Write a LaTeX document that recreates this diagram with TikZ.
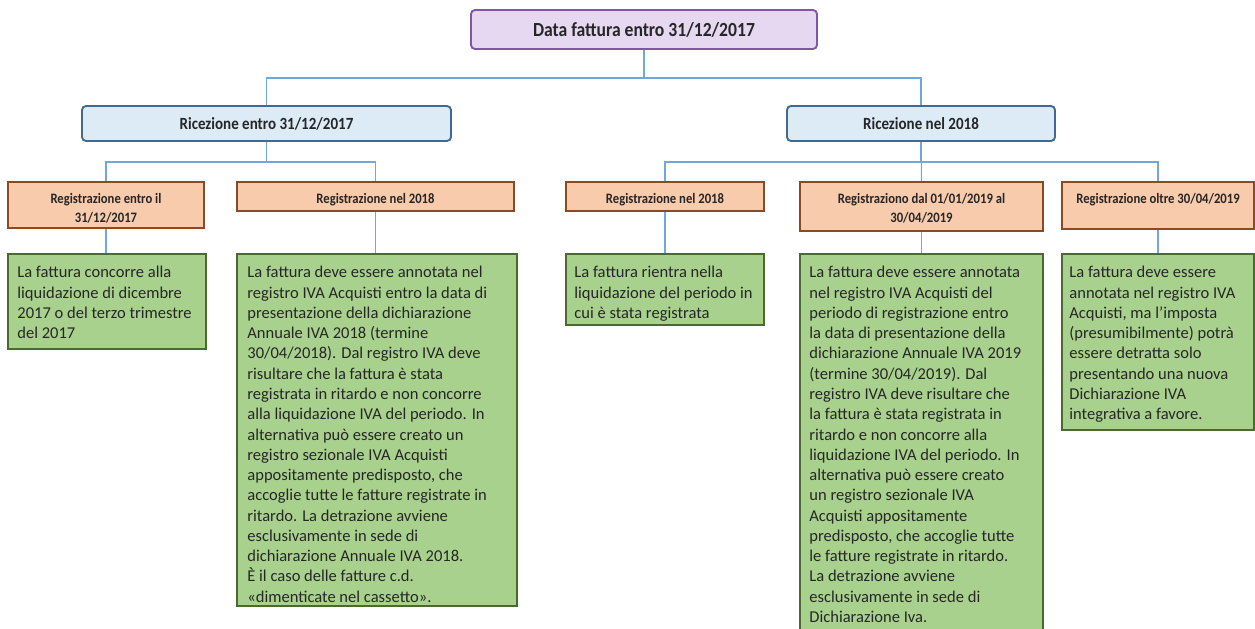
\documentclass[tikz,border=0pt]{standalone}
\usepackage{fontspec}
\setmainfont{Carlito}
\newfontfamily\hdrfont[FakeStretch=0.88]{Carlito}
\usetikzlibrary{fit}
\definecolor{topfill}{HTML}{E5D8F0}
\definecolor{topc}{HTML}{7F56A8}
\definecolor{recfill}{HTML}{DDEBF7}
\definecolor{recc}{HTML}{3E6A94}
\definecolor{regfill}{HTML}{F8CBAD}
\definecolor{regc}{HTML}{8B4A22}
\definecolor{txtfill}{HTML}{A9D18E}
\definecolor{txtc}{HTML}{4A6B2F}
\definecolor{connc}{HTML}{6FA8DC}
\tikzset{
  conn/.style={draw=connc, line width=0.8pt},
  topbox/.style={draw=topc, fill=topfill, line width=1.4pt, rounded corners=3pt, inner sep=0pt},
  recbox/.style={draw=recc, fill=recfill, line width=1.4pt, rounded corners=3pt, inner sep=0pt},
  regbox/.style={draw=regc, fill=regfill, line width=1.3pt, inner sep=0pt},
  txtbox/.style={draw=txtc, fill=txtfill, line width=1.3pt, inner sep=0pt},
  toptext/.style={font=\hdrfont\bfseries\fontsize{15}{18}\selectfont, inner sep=0pt, text=black!85},
  rectext/.style={font=\hdrfont\bfseries\fontsize{12.8}{15}\selectfont, inner sep=0pt, text=black!85},
  regtext/.style={font=\hdrfont\bfseries\fontsize{10.8}{14.3}\selectfont, inner sep=0pt, align=center, anchor=north, text=black!85},
  bodytext/.style={font=\fontsize{12.4}{15.2}\selectfont, inner sep=0pt, align=left, anchor=north west, text=black!85},
}
\begin{document}
\begin{tikzpicture}[x=0.75pt,y=-0.75pt]
\useasboundingbox (0,0) rectangle (1255,628);
\clip (0,0) rectangle (1255,628);
% top
\node[topbox, fit={(471,10) (817,49)}] (T) {};
\node[toptext] (Tt) at (T.center) {Data fattura entro 31/12/2017};
% level 2
\node[recbox, fit={(82,106) (451,141)}] (R1) {};
\node[rectext] (R1t) at (R1.center) {Ricezione entro 31/12/2017};
\node[recbox, fit={(787,106) (1055,141)}] (R2) {};
\node[rectext] (R2t) at (R2.center) {Ricezione nel 2018};
% level 3
\node[regbox, fit={(8,182) (204,228)}] (O1) {};
\node[regtext] (O1t) at ([yshift=-9pt]O1.north) {Registrazione entro il\\31/12/2017};
\node[regbox, fit={(237,182) (514,211)}] (O2) {};
\node[regtext] (O2t) at ([yshift=-9pt]O2.north) {Registrazione nel 2018};
\node[regbox, fit={(566,182) (764,211)}] (O3) {};
\node[regtext] (O3t) at ([yshift=-9pt]O3.north) {Registrazione nel 2018};
\node[regbox, fit={(800,182) (1043,231)}] (O4) {};
\node[regtext] (O4t) at ([yshift=-9pt]O4.north) {Registraziono dal 01/01/2019 al\\30/04/2019};
\node[regbox, fit={(1062,182) (1254,229)}] (O5) {};
\node[regtext] (O5t) at ([yshift=-9pt]O5.north) {Registrazione oltre 30/04/2019};
% level 4
\node[txtbox, fit={(8,254) (206,349)}] (G1) {};
\node[bodytext] (G1t) at ([shift={(10,13)}]G1.north west) {La fattura concorre alla\\liquidazione di dicembre\\2017 o del terzo trimestre\\del 2017};
\node[txtbox, fit={(237,254) (517,606)}] (G2) {};
\node[bodytext] (G2t) at ([shift={(11,13)}]G2.north west) {La fattura deve essere annotata nel\\registro IVA Acquisti entro la data di\\presentazione della dichiarazione\\Annuale IVA 2018 (termine\\30/04/2018). Dal registro IVA deve\\risultare che la fattura è stata\\registrata in ritardo e non concorre\\alla liquidazione IVA del periodo. In\\alternativa può essere creato un\\registro sezionale IVA Acquisti\\appositamente predisposto, che\\accoglie tutte le fatture registrate in\\ritardo. La detrazione avviene\\esclusivamente in sede di\\dichiarazione Annuale IVA 2018.\\È il caso delle fatture c.d.\\«dimenticate nel cassetto».};
\node[txtbox, fit={(566,254) (764,325)}] (G3) {};
\node[bodytext] (G3t) at ([shift={(9,13)}]G3.north west) {La fattura rientra nella\\liquidazione del periodo in\\cui è stata registrata};
\node[txtbox, fit={(800,254) (1043,650)}] (G4) {};
\node[bodytext] (G4t) at ([shift={(10,13)}]G4.north west) {La fattura deve essere annotata\\nel registro IVA Acquisti del\\periodo di registrazione entro\\la data di presentazione della\\dichiarazione Annuale IVA 2019\\(termine 30/04/2019). Dal\\registro IVA deve risultare che\\la fattura è stata registrata in\\ritardo e non concorre alla\\liquidazione IVA del periodo. In\\alternativa può essere creato\\un registro sezionale IVA\\Acquisti appositamente\\predisposto, che accoglie tutte\\le fatture registrate in ritardo.\\La detrazione avviene\\esclusivamente in sede di\\Dichiarazione Iva.};
\node[txtbox, fit={(1062,254) (1254,430)}] (G5) {};
\node[bodytext] (G5t) at ([shift={(8,13)}]G5.north west) {La fattura deve essere\\annotata nel registro IVA\\Acquisti, ma l'imposta\\(presumibilmente) potrà\\essere detratta solo\\presentando una nuova\\Dichiarazione IVA\\integrativa a favore.};
% connectors
\coordinate (b1) at (644,78);
\coordinate (b2) at (266,162);
\coordinate (b3) at (921,162);
\draw[conn] (T.south) |- (b1 -| R1.north) -- (R1.north);
\draw[conn] (T.south) |- (b1 -| R2.north) -- (R2.north);
\draw[conn] (R1.south) |- (b2 -| O1.north) -- (O1.north);
\draw[conn] (R1.south) |- (b2 -| O2.north) -- (O2.north);
\draw[conn] (R2.south) |- (b3 -| O3.north) -- (O3.north);
\draw[conn] (R2.south) -- (O4.north);
\draw[conn] (R2.south) |- (b3 -| O5.north) -- (O5.north);
\draw[conn] (O1.south) -- (G1.north -| O1.south);
\draw[conn] (O2.south) -- (G2.north -| O2.south);
\draw[conn] (O3.south) -- (G3.north -| O3.south);
\draw[conn] (O4.south) -- (G4.north -| O4.south);
\draw[conn] (O5.south) -- (G5.north -| O5.south);
\end{tikzpicture}
\end{document}
